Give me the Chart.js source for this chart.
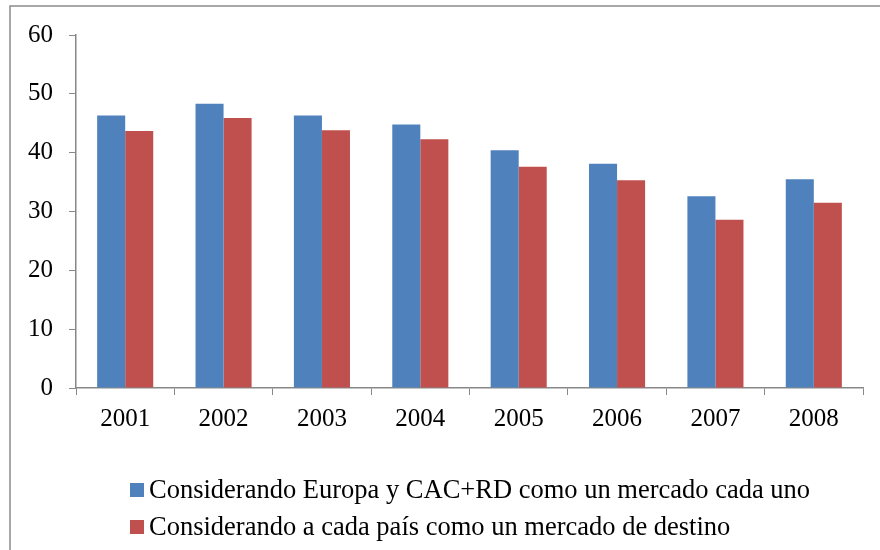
<!DOCTYPE html>
<html>
<head>
<meta charset="utf-8">
<script src="https://cdn.jsdelivr.net/npm/chart.js@4.4.1/dist/chart.umd.min.js"></script>
<style>
  html, body { margin: 0; padding: 0; background: #fff; }
  #wrap { width: 880px; height: 550px; }
</style>
</head>
<body>
<div id="wrap"><canvas id="barChart" width="880" height="550"></canvas></div>
<script>
const years = ["2001", "2002", "2003", "2004", "2005", "2006", "2007", "2008"];
const europaCac = [46.3, 48.3, 46.3, 44.8, 40.4, 38.1, 32.6, 35.5];
const cadaPais = [43.7, 45.9, 43.8, 42.3, 37.6, 35.3, 28.6, 31.5];
const seriesNames = [
    "Considerando Europa y CAC+RD como un mercado cada uno",
    "Considerando a cada país como un mercado de destino"
];
const yTicks = [0, 10, 20, 30, 40, 50, 60];

const serif = '"Liberation Serif", "Times New Roman", serif';
const axisGrey = '#888888';

// frame round the whole chart plus the legend list at the bottom left
const extras = {
    id: 'extras',
    afterDraw(c) {
        const ctx = c.ctx;
        ctx.save();
        ctx.strokeStyle = '#8c8c8c';
        ctx.lineWidth = 1.5;
        ctx.beginPath();
        ctx.moveTo(10, 560);
        ctx.lineTo(10, 6);
        ctx.lineTo(890, 6);
        ctx.stroke();

        ctx.font = '26.5px ' + serif;
        ctx.textBaseline = 'alphabetic';
        ctx.textAlign = 'left';
        c.data.datasets.forEach((ds, i) => {
            const y = 490 + i * 37;
            ctx.fillStyle = ds.backgroundColor;
            ctx.fillRect(130, y - 7, 14, 14);
            ctx.fillStyle = '#000';
            ctx.fillText(ds.label, 149, y + 7.5);
        });
        ctx.restore();
    }
};

const ctx = document.getElementById("barChart").getContext("2d");
new Chart(ctx, {
    type: 'bar',
    data: {
        labels: years,
        datasets: [{
            label: seriesNames[0],
            data: europaCac,
            backgroundColor: '#4F81BD'
        }, {
            label: seriesNames[1],
            data: cadaPais,
            backgroundColor: '#C0504D'
        }]
    },
    options: {
        responsive: false,
        animation: false,
        layout: { padding: { top: 35, right: 17, bottom: 112, left: 0 } },
        datasets: { bar: { categoryPercentage: 0.57, barPercentage: 1.0 } },
        plugins: {
            legend: { display: false },
            tooltip: { enabled: false }
        },
        scales: {
            x: {
                grid: { drawOnChartArea: false, drawTicks: true, tickLength: 7, color: axisGrey },
                border: { color: axisGrey, width: 1.5 },
                ticks: { color: '#000', font: { family: serif, size: 25 }, padding: 9 },
                afterFit: s => { s.height = 50; }
            },
            y: {
                min: 0,
                max: 60,
                afterBuildTicks: s => { s.ticks = yTicks.map(v => ({ value: v })); },
                grid: { drawOnChartArea: false, drawTicks: true, tickLength: 7, color: axisGrey },
                border: { color: axisGrey, width: 1.5 },
                ticks: { color: '#000', font: { family: serif, size: 25 }, padding: 16 },
                afterFit: s => { s.width = 76; }
            }
        }
    },
    plugins: [extras]
});
</script>
</body>
</html>
